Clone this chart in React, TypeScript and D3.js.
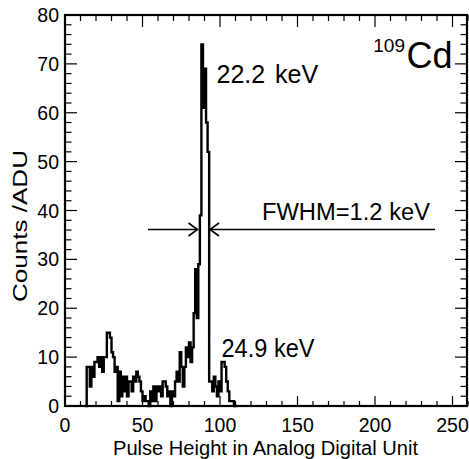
import React from "react";
import * as d3 from "d3";

// first bin starts at ADU 14, 1 ADU per bin
const firstBin = 14;
const counts = [
  8, 8, 4, 8, 6, 9, 9, 10, 8, 10, // 14-23
  7, 10, 10, 15, 15, 14, 11, 10, 7, 8, // 24-33
  1, 7, 2, 6, 3, 6, 2, 5, 5, 3, // 34-43
  6, 5, 7, 6, 5, 3, 1, 2, 1, 1, // 44-53
  0, 3, 1, 4, 1, 4, 3, 4, 2, 5, // 54-63
  5, 4, 2, 3, 0, 3, 2, 5, 7, 5, // 64-73
  11, 8, 4, 8, 12, 10, 13, 9, 12, 19, // 74-83
  28, 18, 29, 39, 74, 61, 69, 58, 52, 5, // 84-93
  5, 3, 6, 4, 2, 5, 3, 9, 9, 8, // 94-103
  5, 3, 1, 1, 1, 0, // 104-109
];

const xTicksMajor = [0, 50, 100, 150, 200, 250];
const yTicksMajor = [0, 10, 20, 30, 40, 50, 60, 70, 80];

const W = 469;
const H = 459;
const left = 65;
const right = 467;
const top = 15;
const bottom = 406;

export default function App() {
  const x = d3.scaleLinear().domain([0, 260]).range([left, left + 1.55 * 260]);
  const y = d3.scaleLinear().domain([0, 80]).range([bottom, top]);

  const pts: [number, number][] = [[firstBin - 1, 0]];
  counts.forEach((c, i) => pts.push([firstBin + i, c]));
  pts.push([firstBin + counts.length, 0]);
  pts.push([firstBin + counts.length + 1, 0]);

  const line = d3
    .line<[number, number]>()
    .x((d) => x(d[0]))
    .y((d) => y(d[1]))
    .curve(d3.curveStepAfter);

  const xMinor = d3.range(0, 261, 10).filter((v) => v % 50 !== 0);
  const yMinor = d3.range(0, 81, 2).filter((v) => v % 10 !== 0);

  const font = "'Liberation Sans', Arial, sans-serif";
  const arrowY = 229.5;
  const tipL = 197.5;
  const tipR = 210;

  return (
    <svg
      width={W}
      height={H}
      style={{ position: "absolute", left: 0, top: 0, background: "#fff" }}
      fontFamily={font}
    >
      <rect width={W} height={H} fill="#fff" />
      {/* ticks */}
      <g stroke="#000" strokeWidth={1.2}>
        {xTicksMajor.map((v) => (
          <g key={"xm" + v}>
            <line x1={x(v)} x2={x(v)} y1={bottom} y2={bottom - 10} />
            <line x1={x(v)} x2={x(v)} y1={top} y2={top + 12} />
          </g>
        ))}
        {xMinor.map((v) => (
          <g key={"xn" + v}>
            <line x1={x(v)} x2={x(v)} y1={bottom} y2={bottom - 5} />
            <line x1={x(v)} x2={x(v)} y1={top} y2={top + 6} />
          </g>
        ))}
        {yTicksMajor.map((v) => (
          <g key={"ym" + v}>
            <line x1={left} x2={left + 12} y1={y(v)} y2={y(v)} />
            <line x1={right} x2={right - 12} y1={y(v)} y2={y(v)} />
          </g>
        ))}
        {yMinor.map((v) => (
          <g key={"yn" + v}>
            <line x1={left} x2={left + 6.5} y1={y(v)} y2={y(v)} />
            <line x1={right} x2={right - 6.5} y1={y(v)} y2={y(v)} />
          </g>
        ))}
      </g>

      {/* histogram */}
      <path d={line(pts) ?? ""} fill="none" stroke="#000" strokeWidth={2.4} />

      {/* frame */}
      <rect
        x={left}
        y={top}
        width={right - left}
        height={bottom - top}
        fill="none"
        stroke="#000"
        strokeWidth={2.2}
      />

      {/* tick labels */}
      <g fontSize={19.5} fill="#000">
        {yTicksMajor.map((v) => (
          <text key={"yl" + v} x={59} y={y(v) + 7} textAnchor="end">
            {v}
          </text>
        ))}
        {xTicksMajor.map((v) => (
          <text key={"xl" + v} x={x(v)} y={432} textAnchor="middle">
            {v}
          </text>
        ))}
      </g>

      {/* axis titles */}
      <text x={113} y={455} fontSize={20} textLength={305} lengthAdjust="spacingAndGlyphs">
        Pulse Height in Analog Digital Unit
      </text>
      <text
        transform="translate(27,302) rotate(-90)"
        fontSize={20}
        textLength={152}
        lengthAdjust="spacingAndGlyphs"
      >
        Counts /ADU
      </text>

      {/* annotations */}
      <text x={216.5} y={83.3} fontSize={25}>22.2</text>
      <text x={275} y={83.3} fontSize={25}>keV</text>
      <text x={221.5} y={356.7} fontSize={25} textLength={93} lengthAdjust="spacingAndGlyphs">
        24.9 keV
      </text>
      <text x={262} y={220} fontSize={23} textLength={168} lengthAdjust="spacingAndGlyphs">
        FWHM=1.2 keV
      </text>
      <text x={405} y={52} fontSize={19} textAnchor="end">109</text>
      <text x={406.5} y={68.3} fontSize={36}>Cd</text>

      {/* FWHM arrows */}
      <g stroke="#000" strokeWidth={1.6} fill="none">
        <line x1={148} x2={tipL} y1={arrowY} y2={arrowY} />
        <polyline points={`${tipL - 9},${arrowY - 6.5} ${tipL},${arrowY} ${tipL - 9},${arrowY + 6.5}`} />
        <line x1={tipR} x2={435} y1={arrowY} y2={arrowY} />
        <polyline points={`${tipR + 9},${arrowY - 6.5} ${tipR},${arrowY} ${tipR + 9},${arrowY + 6.5}`} />
      </g>
    </svg>
  );
}
